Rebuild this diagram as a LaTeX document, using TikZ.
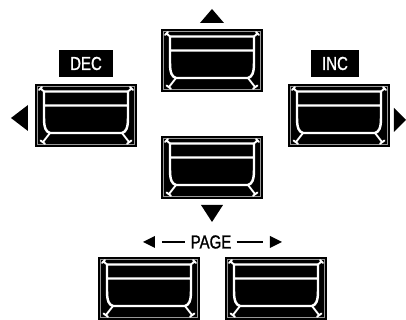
\documentclass[tikz,border=0pt]{standalone}
\usepackage{fontspec}
\newfontfamily\keyfont{Liberation Sans}[FakeStretch=0.8, FakeBold=1.2]
\usetikzlibrary{positioning,calc}
\tikzset{
  keyline/.style={white, line width=2.1pt, line join=round, line cap=round},
  keytick/.style={white, line width=1.6pt, line cap=round},
  btn/.pic={
    \fill[black] (0,0) rectangle (102,63);
    \draw[black!40, line width=0.6pt] (2.4,2.4) rectangle (99.6,60.6);
    \draw[keyline] (9,7.5) -- (93,7.5) (9,21.5) -- (93,21.5)
      (9,7.5) -- (9,34) .. controls (9,44) and (11,48) .. (15,49) -- (87,49)
      .. controls (91,48) and (93,44) .. (93,34) -- (93,7.5);
    \draw[keytick] (9,7.5) -- (5.5,4.5) (4,6) -- (7,3)
      (93,7.5) -- (96.5,4.5) (98,6) -- (95,3);
    \draw[keytick] (15,49) -- (8,58) (5.5,56.5) -- (10,59.8)
      (87,49) -- (94,58) (96.5,56.5) -- (92,59.8);
  },
  tag/.style={fill=black, text=white, font=\keyfont\fontsize{16}{19}\selectfont, inner xsep=0.33cm, inner ysep=0pt, minimum height=0.81cm},
  arrowtri/.style={fill=black},
  pgline/.style={line width=1.4pt},
}
\begin{document}
\begin{tikzpicture}[x=0.03cm, y=-0.03cm]
  \useasboundingbox[fill=white] (0,0) rectangle (406,320);
  % buttons
  \pic at (161,29) {btn};
  \pic at (161,136) {btn};
  \pic at (35,84) {btn};
  \pic at (288,84) {btn};
  \pic at (98,257) {btn};
  \pic at (225,257) {btn};
  % labels
  \node[tag] (dec) at (86,63.5) {DEC};
  \node[tag] (inc) at (335,63.5) {INC};
  \node[font=\keyfont\fontsize{16}{19}\selectfont, inner sep=1pt] (page) at (211,242) {PAGE};
  % arrows
  \fill[arrowtri] (200,23) -- (224,23) -- (212,9) -- cycle;
  \fill[arrowtri] (201,205) -- (223,205) -- (212,222) -- cycle;
  \fill[arrowtri] (11,118) -- (28,105) -- (28,131) -- cycle;
  \fill[arrowtri] (406,120) -- (394,108) -- (394,132) -- cycle;
  \coordinate (pl) at (155,242);
  \coordinate (pr) at (270,242);
  \fill[arrowtri] (143,242) -- ($(pl)+(0,-6)$) -- ($(pl)+(0,6)$) -- cycle;
  \fill[arrowtri] (282,242) -- ($(pr)+(0,-6)$) -- ($(pr)+(0,6)$) -- cycle;
  \draw[pgline] ($(pl)+(7,0)$) -- ($(page.west)+(-4,0)$);
  \draw[pgline] ($(page.east)+(4,0)$) -- ($(pr)+(-7,0)$);
\end{tikzpicture}
\end{document}
